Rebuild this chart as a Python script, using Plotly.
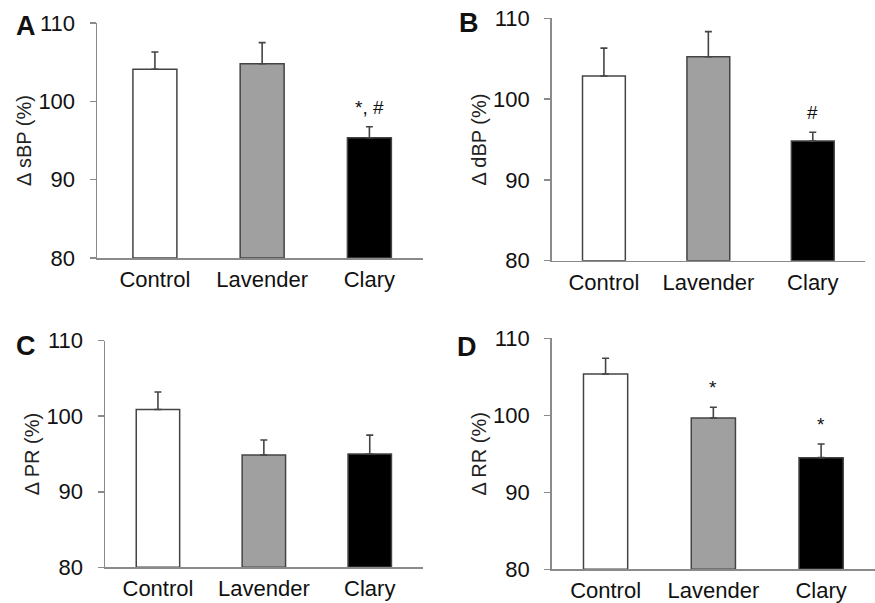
import plotly.graph_objects as go

W, H = 875, 603

categories = ["Control", "Lavender", "Clary"]
colors = ["#ffffff", "#a0a0a0", "#000000"]

sbp_mean = [104.1, 104.8, 95.35]
sbp_err = [2.2, 2.7, 1.4]
sbp_sig = ["", "", "*, #"]

dbp_mean = [102.86, 105.25, 94.8]
dbp_err = [3.45, 3.1, 1.1]
dbp_sig = ["", "", "#"]

pr_mean = [100.9, 94.86, 95.0]
pr_err = [2.3, 2.0, 2.5]
pr_sig = ["", "", ""]

rr_mean = [105.36, 99.65, 94.5]
rr_err = [2.04, 1.39, 1.77]
rr_sig = ["", "*", "*"]

y_ticks = [80, 90, 100, 110]

FONT = "Liberation Sans, Arial, sans-serif"
AXIS_GRAY = "#8a8a8a"

# panel layout in pixels: (x0, x1, ytop, ybottom, xrange_left)
panels = [
    ("A", "\u0394 sBP (%)", sbp_mean, sbp_err, sbp_sig, (97, 423, 23, 258, -0.54)),
    ("B", "\u0394 dBP (%)", dbp_mean, dbp_err, dbp_sig, (551.7, 865, 18.3, 260.7, -0.5)),
    ("C", "\u0394 PR (%)", pr_mean, pr_err, pr_sig, (105, 422.7, 340.7, 567.3, -0.5)),
    ("D", "\u0394 RR (%)", rr_mean, rr_err, rr_sig, (551.7, 875, 338.3, 569.3, -0.5)),
]

letter_pos = {"A": (26, 26), "B": (469, 23), "C": (26, 346), "D": (467, 347)}

fig = go.Figure()
annotations = []
layout = {}

for i, (letter, title, mean, err, sig, geo) in enumerate(panels):
    n = "" if i == 0 else str(i + 1)
    x0, x1, yt, yb, xl = geo
    xa = "x" + n
    ya = "y" + n
    fig.add_trace(go.Bar(
        x=list(range(len(categories))),
        y=[m - 80 for m in mean],
        base=80,
        width=0.41,
        marker=dict(color=colors, line=dict(color="#444444", width=1.5)),
        error_y=dict(type="data", symmetric=False, array=err,
                     arrayminus=[0] * len(err), color="#444444",
                     thickness=1.6, width=3.5),
        xaxis=xa, yaxis=ya, showlegend=False, hoverinfo="skip",
    ))
    layout["xaxis" + n] = dict(
        domain=[x0 / W, min(x1 / W, 1.0)],
        anchor=ya,
        automargin=False,
        range=[xl, 2.5],
        tickvals=list(range(len(categories))),
        ticktext=categories,
        showline=True, linecolor=AXIS_GRAY, linewidth=1.5,
        ticks="", showgrid=False, zeroline=False,
        tickfont=dict(family=FONT, size=22, color="#111111"),
        ticklabelstandoff=1,
    )
    layout["yaxis" + n] = dict(
        domain=[1 - yb / H, 1 - yt / H],
        anchor=xa,
        automargin=False,
        range=[80, 110],
        tickvals=y_ticks,
        showline=True, linecolor=AXIS_GRAY, linewidth=1.5,
        ticks="outside", ticklen=6, tickcolor=AXIS_GRAY, tickwidth=1.5,
        showgrid=False, zeroline=False,
        tickfont=dict(family=FONT, size=22, color="#111111"),
        ticklabelstandoff=10,
        title=dict(text=title, font=dict(family=FONT, size=20, color="#222222"),
                   standoff=1),
    )
    for j, s in enumerate(sig):
        if s:
            annotations.append(dict(
                x=j, y=mean[j] + err[j], xref=xa, yref=ya,
                text=s, showarrow=False, yanchor="bottom",
                yshift=7, font=dict(family=FONT, size=19, color="#111111"),
            ))
    lx, ly = letter_pos[letter]
    annotations.append(dict(
        x=lx / W, y=1 - ly / H, xref="paper", yref="paper",
        text="<b>" + letter + "</b>", showarrow=False,
        xanchor="center", yanchor="middle",
        font=dict(family=FONT, size=27, color="#111111"),
    ))

fig.update_layout(
    template="none",
    width=W, height=H,
    margin=dict(l=0, r=0, t=0, b=0, pad=0),
    paper_bgcolor="white", plot_bgcolor="white",
    annotations=annotations,
    bargap=0,
    hovermode=False,
    **layout,
)

fig.write_html(
    "out.html",
    config={"displayModeBar": False, "staticPlot": True},
    post_script="document.body.style.margin='0';document.body.style.overflow='hidden';",
)
